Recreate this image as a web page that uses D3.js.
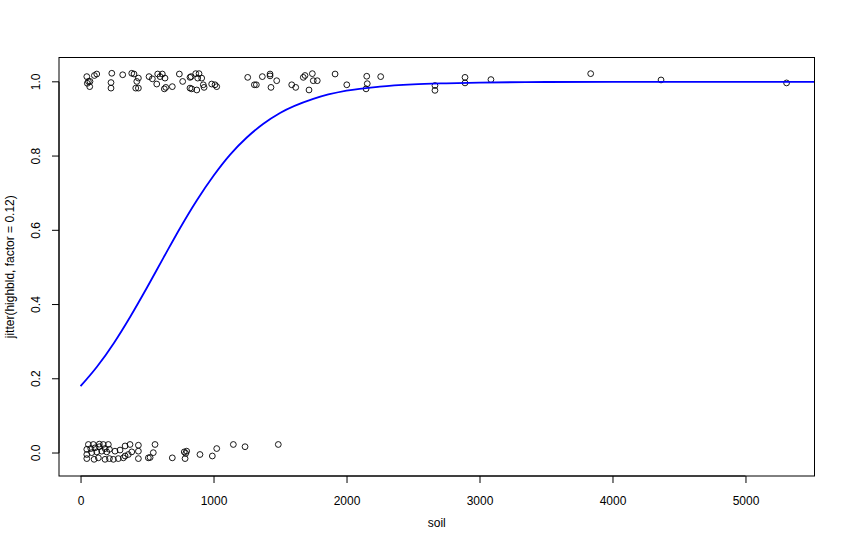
<!DOCTYPE html>
<html>
<head>
<meta charset="utf-8">
<script src="https://cdn.jsdelivr.net/npm/d3@7"></script>
<style>
  body { margin: 0; background: #fff; }
  svg { display: block; font-family: "Liberation Sans", Arial, Helvetica, sans-serif; }
</style>
</head>
<body>
<svg id="svg" width="845" height="550"></svg>
<script>
// observations with highbld = 1 (soil, jittered value)
const topSoil = [47, 59, 71, 69, 51, 104, 122, 235, 229, 229, 317, 385, 402, 435, 423, 415, 435,
  515, 540, 573, 580, 598, 615, 635, 630, 641, 690, 743, 768, 823, 831, 823, 836, 866, 891, 881,
  911, 874, 923, 929, 986, 1011, 1024, 1257, 1307, 1322, 1367, 1425, 1425, 1475, 1432, 1588, 1618,
  1675, 1688, 1743, 1750, 1780, 1718, 1914, 2002, 2152, 2156, 2147, 2257, 2665, 2665, 2891, 2891,
  3086, 3836, 4365, 5309];
const topJit = [1.014, 1.001, 1.001, 0.987, 0.996, 1.017, 1.021, 1.023, 0.998, 0.983, 1.019, 1.023,
  1.021, 1.010, 1.001, 0.983, 0.983, 1.014, 1.008, 0.994, 1.021, 1.014, 1.021, 1.010, 0.981, 0.985,
  0.987, 1.021, 1.001, 1.012, 1.014, 0.983, 0.981, 1.022, 1.022, 1.010, 1.010, 0.978, 0.992, 0.985,
  0.994, 0.992, 0.987, 1.012, 0.992, 0.992, 1.014, 1.021, 1.016, 1.003, 0.985, 0.992, 0.985, 1.012,
  1.017, 1.022, 1.003, 1.003, 0.978, 1.021, 0.992, 1.015, 0.995, 0.981, 1.014, 0.990, 0.977, 1.012,
  0.997, 1.006, 1.022, 1.005, 0.997];

// observations with highbld = 0
const lowSoil = [59, 96, 141, 171, 209, 47, 77, 109, 141, 184, 217, 47, 84, 122, 159, 197, 47, 102,
  134, 184, 217, 259, 297, 335, 372, 435, 435, 247, 284, 322, 335, 359, 385, 435, 510, 547, 560, 523,
  690, 780, 791, 786, 798, 898, 991, 1024, 1149, 1237, 1487];
const lowJit = [0.023, 0.023, 0.024, 0.023, 0.023, 0.010, 0.012, 0.014, 0.017, 0.012, 0.010, -0.004,
  0.001, 0.003, 0.005, 0.003, -0.015, -0.017, -0.013, -0.017, -0.015, 0.005, 0.008, 0.019, 0.023,
  0.021, 0.005, -0.017, -0.015, -0.013, -0.008, -0.004, 0.003, -0.015, -0.013, 0.001, 0.023, -0.012,
  -0.013, 0.003, -0.001, -0.015, 0.005, -0.004, -0.008, 0.012, 0.023, 0.017, 0.023];

// fitted probability curve
const curveSoil = [0, 125, 250, 375, 500, 625, 750, 875, 1000, 1125, 1250, 1375, 1500, 1750, 2000,
  2250, 2500, 2750, 3000, 3500, 4000, 4500, 5000, 5520];
const curveProb = [0.180, 0.233, 0.296, 0.368, 0.446, 0.527, 0.607, 0.681, 0.747, 0.804, 0.850,
  0.887, 0.916, 0.954, 0.976, 0.987, 0.993, 0.996, 0.998, 0.9995, 0.9999, 1.0, 1.0, 1.0];

const xTicks = [0, 1000, 2000, 3000, 4000, 5000];
const yTicks = [0, 0.2, 0.4, 0.6, 0.8, 1.0];

const svg = d3.select("#svg");
const plotL = 59, plotR = 814.5, plotT = 57.5, plotB = 476;

const x = d3.scaleLinear().domain([-162, 5519]).range([plotL, plotR]);
const y = d3.scaleLinear().domain([-0.0619, 1.0655]).range([plotB, plotT]);

svg.append("clipPath").attr("id", "plotclip")
  .append("rect").attr("x", plotL).attr("y", plotT)
  .attr("width", plotR - plotL).attr("height", plotB - plotT);

const points = topSoil.map((s, i) => [s, topJit[i]])
  .concat(lowSoil.map((s, i) => [s, lowJit[i]]));

svg.append("g")
  .selectAll("circle")
  .data(points)
  .enter()
  .append("circle")
  .attr("cx", d => x(d[0]))
  .attr("cy", d => y(d[1]))
  .attr("r", 2.9)
  .attr("fill", "none")
  .attr("stroke", "#000")
  .attr("stroke-width", 0.9);

const line = d3.line()
  .x((d, i) => x(curveSoil[i]))
  .y(d => y(d))
  .curve(d3.curveMonotoneX);

svg.append("path")
  .datum(curveProb)
  .attr("clip-path", "url(#plotclip)")
  .attr("d", line)
  .attr("fill", "none")
  .attr("stroke", "#0000ff")
  .attr("stroke-width", 1.8);

// box
svg.append("rect")
  .attr("x", plotL).attr("y", plotT)
  .attr("width", plotR - plotL).attr("height", plotB - plotT)
  .attr("fill", "none").attr("stroke", "#000").attr("stroke-width", 1);

const xAxis = d3.axisBottom(x).tickValues(xTicks).tickSize(7).tickPadding(13).tickFormat(d3.format("d"));
const gx = svg.append("g").attr("transform", `translate(0,${plotB})`).call(xAxis);
gx.select(".domain").attr("d", `M${x(0)},0H${x(5000)}`);
gx.selectAll("text").attr("font-size", 12).attr("font-family", null).attr("fill", "#000");

const yAxis = d3.axisLeft(y).tickValues(yTicks).tickSize(7).tickFormat(d3.format(".1f"));
const gy = svg.append("g").attr("transform", `translate(${plotL},0)`).call(yAxis);
gy.select(".domain").attr("d", `M0,${y(0)}V${y(1)}`);
gy.selectAll(".tick").attr("transform", null);
gy.selectAll(".tick line").attr("transform", d => `translate(0,${y(d)})`);
gy.selectAll("text")
  .attr("font-size", 12).attr("font-family", null).attr("fill", "#000")
  .attr("x", 0).attr("y", 0).attr("dy", null)
  .attr("text-anchor", "middle")
  .attr("transform", d => `translate(-19,${y(d)}) rotate(-90)`);

svg.append("text")
  .attr("x", (plotL + plotR) / 2).attr("y", 527)
  .attr("text-anchor", "middle").attr("font-size", 12)
  .text("soil");

svg.append("text")
  .attr("transform", `translate(14,${(plotT + plotB) / 2}) rotate(-90)`)
  .attr("text-anchor", "middle").attr("font-size", 12)
  .text("jitter(highbld, factor = 0.12)");
</script>
</body>
</html>
